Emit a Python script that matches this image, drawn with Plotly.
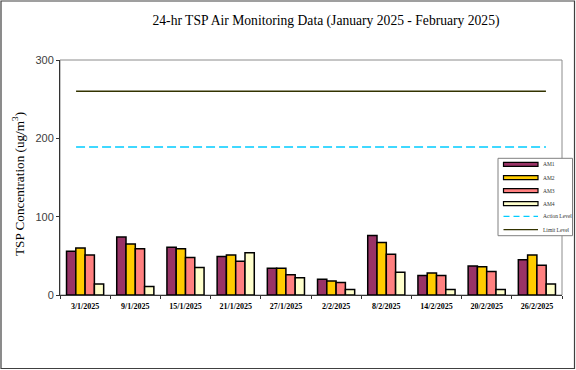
import plotly.graph_objects as go

# ---- data ----
dates = ["3/1/2025", "9/1/2025", "15/1/2025", "21/1/2025", "27/1/2025",
         "2/2/2025", "8/2/2025", "14/2/2025", "20/2/2025", "26/2/2025"]
am1 = [56, 74, 61, 49, 34, 20, 76, 25, 37, 45]
am2 = [60, 65, 59, 51, 34, 18, 67, 28, 36, 51]
am3 = [51, 59, 48, 43, 26, 16, 52, 25, 30, 38]
am4 = [14, 11, 35, 54, 22, 7, 29, 7, 7, 14]
series_names = ["AM1", "AM2", "AM3", "AM4"]
action_level = 189
limit_level = 260
y_ticks = [0, 100, 200, 300]

colors = ["#993366", "#FFCC00", "#FF8080", "#FFFFCC"]
serif = "Liberation Serif, Times New Roman, serif"
sans = "Liberation Sans, Arial, sans-serif"

fig = go.Figure()
for name, vals, col in zip(series_names, [am1, am2, am3, am4], colors):
    fig.add_trace(go.Bar(
        x=dates, y=vals, name=name,
        marker=dict(color=col, line=dict(color="#000000", width=1.5)),
        showlegend=False,
    ))

# level lines (category-index positions on the x axis)
shapes = [
    dict(type="line", xref="x", yref="y", x0=-0.18, x1=9.18,
         y0=action_level, y1=action_level,
         line=dict(color="#00CCFF", width=1.5, dash="9px,4px")),
    dict(type="line", xref="x", yref="y", x0=-0.18, x1=9.18,
         y0=limit_level, y1=limit_level,
         line=dict(color="#333300", width=1.5)),
]

# plot-area frame (gray)
shapes.append(dict(type="rect", xref="paper", yref="paper", x0=0, x1=1, y0=0, y1=1,
                   line=dict(color="#8c8c8c", width=1), layer="below"))

# figure outer border
L, R, T, B = 60, 14, 60, 75
W, H = 576, 370
pw, ph = W - L - R, H - T - B
def px(x):
    return (x - L) / pw
def py(y):
    return (H - B - y) / ph
shapes.append(dict(type="rect", xref="paper", yref="paper",
                   x0=px(1), x1=px(574.5), y0=py(368.5), y1=py(1),
                   line=dict(color="#404040", width=1.2)))

# custom legend
shapes.append(dict(type="rect", xref="paper", yref="paper",
                   x0=px(498), x1=px(572.5), y0=py(235.7), y1=py(158.3),
                   fillcolor="white", line=dict(color="#808080", width=1)))
annotations = []
leg_labels = series_names + ["Action Level", "Limit Level"]
leg_y = [164.3, 177.7, 190.7, 203.7, 216.3, 229.7]
for i, (lab, yy) in enumerate(zip(leg_labels, leg_y)):
    if i < 4:
        shapes.append(dict(type="rect", xref="paper", yref="paper",
                           x0=px(503.5), x1=px(538), y0=py(yy + 2), y1=py(yy - 2),
                           fillcolor=colors[i], line=dict(color="#000000", width=1.2)))
    elif i == 4:
        shapes.append(dict(type="line", xref="paper", yref="paper",
                           x0=px(503.5), x1=px(538), y0=py(yy), y1=py(yy),
                           line=dict(color="#00CCFF", width=1.2, dash="6px,4px")))
    else:
        shapes.append(dict(type="line", xref="paper", yref="paper",
                           x0=px(503.5), x1=px(538), y0=py(yy), y1=py(yy),
                           line=dict(color="#333300", width=1.2)))
    annotations.append(dict(xref="paper", yref="paper", x=px(540.5), y=py(yy),
                            text=lab, showarrow=False, xanchor="left", yanchor="middle",
                            font=dict(family=serif, size=5.5, color="#303030")))

# y-axis title as rotated text
annotations.append(dict(xref="paper", yref="paper", x=px(18), y=py(184),
                        text="TSP Concentration (ug/m<sup>3</sup>)", textangle=-90,
                        showarrow=False, xanchor="center", yanchor="middle",
                        font=dict(family=serif, size=13.2, color="#000000")))

fig.update_layout(
    width=W, height=H,
    margin=dict(l=L, r=R, t=T, b=B, pad=0),
    paper_bgcolor="white", plot_bgcolor="white",
    barmode="group", bargap=0.26, bargroupgap=0,
    title=dict(text="24-hr TSP Air Monitoring Data (January 2025 - February 2025)",
               x=(326) / W, xanchor="center", y=1 - 20 / H, yanchor="middle",
               font=dict(family=serif, size=13.6, color="#000000")),
    shapes=shapes,
    annotations=annotations,
    showlegend=False,
)
fig.update_xaxes(
    type="category", showline=True, linecolor="#333333", linewidth=1,
    ticks="outside", tickson="boundaries", ticklen=3, tickcolor="#333333",
    ticklabelstandoff=3,
    tickfont=dict(family=serif, size=8, color="#000000", weight="bold"),
    showgrid=False, zeroline=False,
)
fig.update_yaxes(
    range=[0, 300], tickvals=y_ticks, showline=True, linecolor="#333333", linewidth=1,
    ticks="outside", ticklen=3, tickcolor="#333333",
    tickfont=dict(family=sans, size=11, color="#404040"),
    showgrid=False, zeroline=False,
)

fig.write_html("out.html", config={"displayModeBar": False},
               post_script="document.body.style.margin='0';document.body.style.overflow='hidden';")
